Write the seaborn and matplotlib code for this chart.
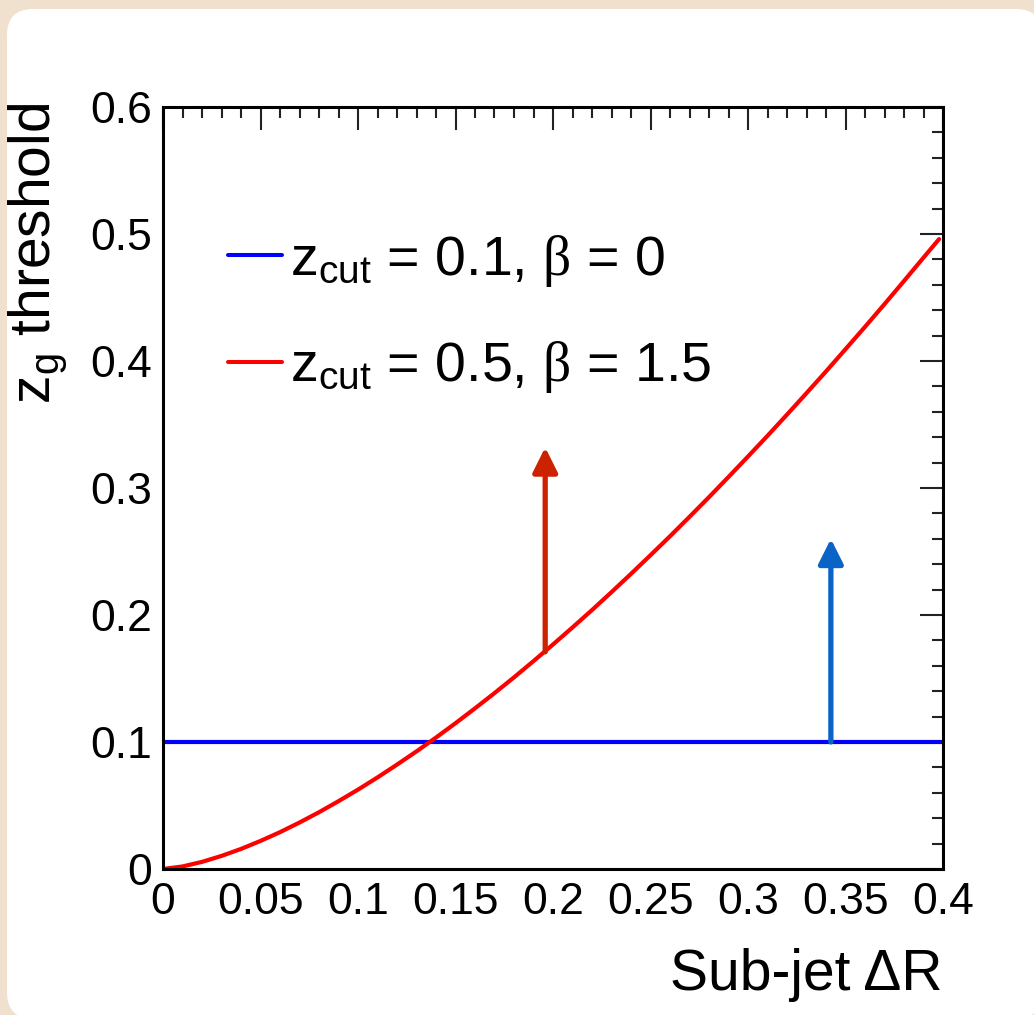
import numpy as np
import pandas as pd
import matplotlib
matplotlib.use("Agg")
import matplotlib.pyplot as plt
from matplotlib.patches import FancyBboxPatch
from matplotlib.ticker import MultipleLocator, FuncFormatter
import seaborn as sns

# ---- data ----
blue_x = [0.0, 0.4]
blue_y = [0.1, 0.1]
red_x = [0.0, 0.01, 0.02, 0.03, 0.04, 0.05, 0.06, 0.07, 0.08, 0.09, 0.10,
         0.11, 0.12, 0.13, 0.14, 0.15, 0.16, 0.17, 0.18, 0.19, 0.20,
         0.21, 0.22, 0.23, 0.24, 0.25, 0.26, 0.27, 0.28, 0.29, 0.30,
         0.31, 0.32, 0.33, 0.34, 0.35, 0.36, 0.37, 0.38, 0.39, 0.398]
red_y = [0.0, 0.002, 0.0056, 0.0103, 0.0158, 0.0221, 0.029, 0.0366, 0.0447,
         0.0534, 0.0625, 0.0721, 0.0822, 0.0926, 0.1035, 0.1148, 0.1265,
         0.1385, 0.1509, 0.1637, 0.1768, 0.1902, 0.2039, 0.218, 0.2324,
         0.2471, 0.262, 0.2773, 0.2928, 0.3087, 0.3248, 0.3411, 0.3578,
         0.3747, 0.3918, 0.4093, 0.4269, 0.4448, 0.463, 0.4814, 0.496]
labels = [r"$\mathrm{z_{cut}}$ = 0.1, $\beta$ = 0",
          r"$\mathrm{z_{cut}}$ = 0.5, $\beta$ = 1.5"]
arrow_x = [0.196, 0.3425]
arrow_y0 = [0.171, 0.10]
arrow_y1 = [0.332, 0.26]
x_label = "Sub-jet ΔR"
y_label = r"$\mathrm{z_g}$ threshold"

sns.set_style("white")
plt.rcParams["font.family"] = ["Liberation Sans", "DejaVu Sans"]
plt.rcParams["mathtext.fontset"] = "custom"
plt.rcParams["mathtext.rm"] = "Liberation Sans"
plt.rcParams["mathtext.it"] = "Liberation Serif"
plt.rcParams["mathtext.bf"] = "Liberation Sans:bold"
for k in ["text.color", "axes.labelcolor", "xtick.color", "ytick.color"]:
    plt.rcParams[k] = "black"

DPI = 100
fig = plt.figure(figsize=(10.34, 10.15), dpi=DPI)
fig.patch.set_facecolor("#efe1cd")
panel = FancyBboxPatch((0.07, -0.035), 10.35, 10.095,
                       boxstyle="round,pad=0,rounding_size=0.26",
                       transform=fig.dpi_scale_trans, facecolor="white",
                       edgecolor="none", zorder=-10)
fig.patches.append(panel)

ax = fig.add_axes([163/1034, 1 - 869/1015, 780/1034, 762/1015])
ax.set_zorder(1)
ax.set_facecolor("white")

df = pd.DataFrame({
    "x": list(blue_x) + list(red_x),
    "y": list(blue_y) + list(red_y),
    "s": [labels[0]] * len(blue_x) + [labels[1]] * len(red_x),
})
sns.lineplot(data=df, x="x", y="y", hue="s", palette=["#0000ff", "#ff0000"],
             linewidth=3.0, ax=ax, sort=False, estimator=None, legend=True)

arrow_cols = ["#cc2200", "#0a64c8"]
for xa, y0, y1, c in zip(arrow_x, arrow_y0, arrow_y1, arrow_cols):
    ax.annotate("", xy=(xa, y1), xytext=(xa, y0),
                arrowprops=dict(arrowstyle="-|>,head_length=1.5,head_width=0.75",
                                color=c, lw=3.8, shrinkA=0, shrinkB=0),
                zorder=5)

ax.set_xlim(0, 0.4)
ax.set_ylim(0, 0.6)
ax.xaxis.set_major_locator(MultipleLocator(0.05))
ax.xaxis.set_minor_locator(MultipleLocator(0.01))
ax.yaxis.set_major_locator(MultipleLocator(0.1))
ax.yaxis.set_minor_locator(MultipleLocator(0.02))
fmt = FuncFormatter(lambda v, p: "%g" % round(v, 3))
ax.xaxis.set_major_formatter(fmt)
ax.yaxis.set_major_formatter(fmt)
ax.tick_params(which="both", direction="in", top=True, right=True,
               width=1.5, color="#222222", labelsize=32, labelcolor="black")
ax.tick_params(which="major", length=16.5)
ax.tick_params(which="minor", length=8)
ax.tick_params(axis="x", which="major", pad=9)
ax.tick_params(axis="y", which="major", pad=8)
for s in ax.spines.values():
    s.set_linewidth(2.2)
    s.set_color("black")

ax.set_xlabel(x_label, fontsize=41, loc="right")
ax.xaxis.set_label_coords(1.0, -0.104)
ax.set_ylabel(y_label, fontsize=41, loc="top")
ax.yaxis.set_label_coords(-0.121, 1.006)

leg = ax.legend(loc="upper left", bbox_to_anchor=(0.083, 0.835), frameon=False,
                fontsize=40, handlelength=0.97, handletextpad=0.15,
                labelspacing=0.91, borderaxespad=0, borderpad=0)
for h in leg.get_lines():
    h.set_linewidth(2.9)

fig.savefig("out.png", dpi=DPI, facecolor=fig.get_facecolor())
